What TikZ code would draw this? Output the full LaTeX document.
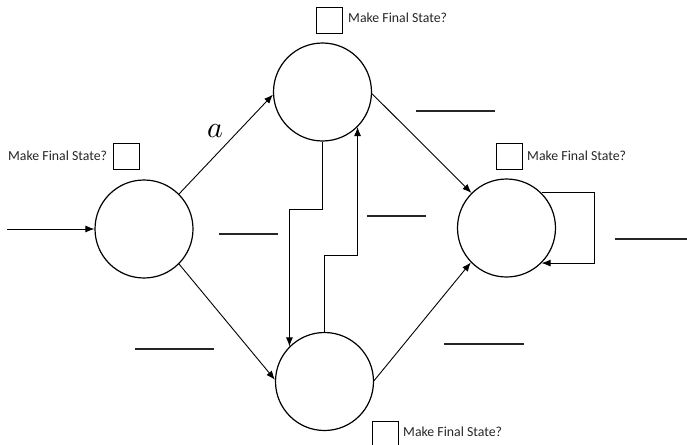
\documentclass[tikz,border=0pt]{standalone}
\usepackage{fontspec}
\usepackage{unicode-math}
\setmainfont{Carlito}
\setmathfont{Latin Modern Math}
\usetikzlibrary{arrows.meta}
\begin{document}
\begin{tikzpicture}[x=1pt,y=-1pt,
  state/.style={circle,draw,line width=1.2pt,minimum size=98pt,inner sep=0pt},
  edge/.style={draw,line width=0.9pt,-{Latex[length=9pt,width=7pt]}},
  blank/.style={draw,line width=1.4pt,color=black!85},
  chk/.style={rectangle,draw,line width=1pt,minimum size=26pt,inner sep=0pt},
  lbl/.style={anchor=base west,inner sep=0pt,font=\fontsize{13.8}{16}\selectfont,text=black!85}]
\useasboundingbox (0,0) rectangle (687,444);
% states
\node[state] (L) at (144,229) {};
\node[state] (T) at (322.5,92) {};
\node[state] (B) at (324.5,381.5) {};
\node[state] (R) at (506.5,228) {};
\coordinate (S) at (7,229);
% edges
\draw[edge] (S) -- (L.180);
\draw[edge] (L.45) -- (T.183.5);
\node[inner sep=0pt,anchor=base,font=\fontsize{30}{34}\selectfont] (la) at (215,137.5) {$a$};
\draw[edge] (T.-2) -- (R.135);
\draw[edge] (L.-45) -- (B.178);
\draw[edge] (B.1) -- (R.224);
\draw[edge] (R.45) -- ++(53,0) |- (R.-45);
\draw[edge] (T.south) -- ++(0,67.5) -| (B.135);
\draw[edge] (B.north) -- ++(0,-76.5) -| (T.-45);
% blanks
\coordinate (b1a) at (416,111); \coordinate (b1b) at (495,111);
\coordinate (b2a) at (219,234); \coordinate (b2b) at (278,234);
\coordinate (b3a) at (367,216); \coordinate (b3b) at (426,216);
\coordinate (b4a) at (615,239); \coordinate (b4b) at (687,239);
\coordinate (b5a) at (135,349); \coordinate (b5b) at (214,349);
\coordinate (b6a) at (444,344); \coordinate (b6b) at (524,344);
\draw[blank] (b1a) -- (b1b);
\draw[blank] (b2a) -- (b2b);
\draw[blank] (b3a) -- (b3b);
\draw[blank] (b4a) -- (b4b);
\draw[blank] (b5a) -- (b5b);
\draw[blank] (b6a) -- (b6b);
% checkboxes
\node[chk] (cL) at (126,156) {};
\node[lbl] (tL) at (8,160) {Make Final State?};
\node[chk] (cT) at (329.5,21) {};
\node[lbl] (tT) at (348,23) {Make Final State?};
\node[chk] (cR) at (509,156) {};
\node[lbl] (tR) at (527,160) {Make Final State?};
\node[chk] (cB) at (385.5,434) {};
\node[lbl] (tB) at (403,436) {Make Final State?};
\end{tikzpicture}
\end{document}
